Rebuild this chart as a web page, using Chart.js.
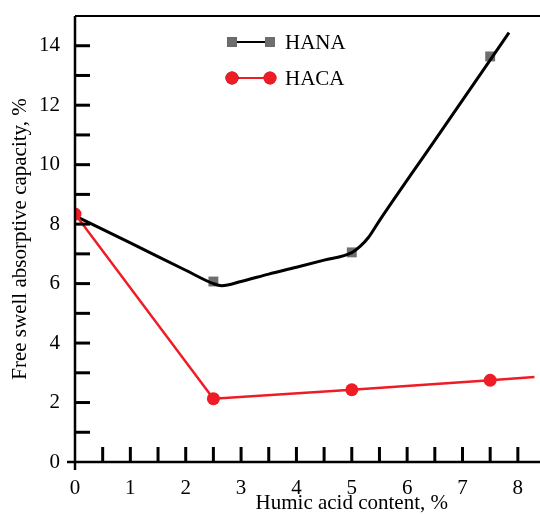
<!DOCTYPE html>
<html><head><meta charset="utf-8">
<script src="https://cdn.jsdelivr.net/npm/chart.js@4.4.0/dist/chart.umd.min.js"></script>
<style>html,body{margin:0;padding:0;background:#fff}#wrap{width:540px;height:514px;position:relative}</style>
</head><body><div id="wrap"><canvas id="c"></canvas></div>
<script>
const seriesNames = ['HANA', 'HACA'];
const humicContent = [0, 2.5, 5, 7.5];
const hanaValues = [8.3, 6.07, 7.05, 13.64];
const hacaValues = [8.34, 2.13, 2.43, 2.75];
const hanaFitX = [0, 1, 2, 2.5, 2.65, 3, 3.5, 4, 4.5, 5, 5.15, 5.3, 5.5, 6.5, 7.84];
const hanaFitY = [8.28, 7.37, 6.45, 6.0, 5.93, 6.07, 6.32, 6.55, 6.79, 7.04, 7.25, 7.55, 8.12, 10.82, 14.44];
const hacaFitX = [0, 2.5, 5, 7.5, 8.3];
const hacaFitY = [8.34, 2.13, 2.43, 2.75, 2.86];
const xTickLabels = ['0', '1', '2', '3', '4', '5', '6', '7', '8'];
const yTickLabels = ['0', '2', '4', '6', '8', '10', '12', '14'];
const xTitle = 'Humic acid content, %';
const yTitle = 'Free swell absorptive capacity, %';

const RED = '#ee1c24', GRAY = '#6e6e6e', FONT = '"Liberation Serif", "Times New Roman", serif';
const pts = (xs, ys) => xs.map((x, i) => ({x, y: ys[i]}));
const noPad = s => { s.paddingLeft = 0; s.paddingRight = 0; s.paddingTop = 0; s.paddingBottom = 0; };
const tightClip = {left: 0, top: 0, right: 0, bottom: 0};

const axesPlugin = {
  id: 'axesPlugin',
  afterDatasetsDraw(chart) {
    const {ctx, chartArea: a, scales: {x, y}} = chart;
    ctx.save();
    ctx.strokeStyle = '#000';
    ctx.lineCap = 'butt';
    ctx.lineWidth = 3;
    x.ticks.forEach(t => {
      if (t.value <= 0) return;
      const px = x.getPixelForValue(t.value);
      ctx.beginPath(); ctx.moveTo(px, a.bottom); ctx.lineTo(px, a.bottom - 15); ctx.stroke();
    });
    y.ticks.forEach(t => {
      if (t.value <= 0 || t.value >= 15) return;
      const py = y.getPixelForValue(t.value);
      ctx.beginPath(); ctx.moveTo(a.left, py); ctx.lineTo(a.left + 15, py); ctx.stroke();
    });
    ctx.lineWidth = 2.5;
    ctx.beginPath();
    ctx.moveTo(a.left - 8, a.bottom); ctx.lineTo(a.right, a.bottom);
    ctx.moveTo(a.left, a.bottom + 8); ctx.lineTo(a.left, a.top);
    ctx.stroke();
    ctx.lineWidth = 2;
    ctx.beginPath(); ctx.moveTo(a.left, a.top); ctx.lineTo(a.right, a.top); ctx.stroke();
    ctx.fillStyle = '#000';
    ctx.font = '21px ' + FONT;
    ctx.textAlign = 'center'; ctx.textBaseline = 'middle';
    ctx.fillText(xTitle, x.getPixelForValue(5), a.bottom + 41);
    const rows = [
      {label: seriesNames[0], line: '#000', style: 'rect', color: GRAY, r: 7, lw: 2},
      {label: seriesNames[1], line: RED, style: 'circle', color: RED, r: 6.5, lw: 2}
    ];
    rows.forEach((it, i) => {
      const ly = a.top + 26 + i * 36;
      const x1 = a.left + 157, x2 = a.left + 195;
      ctx.strokeStyle = it.line; ctx.lineWidth = it.lw;
      ctx.beginPath(); ctx.moveTo(x1, ly); ctx.lineTo(x2, ly); ctx.stroke();
      [x1, x2].forEach(px => {
        Chart.helpers.drawPoint(ctx, {pointStyle: it.style, radius: it.r, borderWidth: 0, rotation: 0}, px, ly);
        ctx.fillStyle = it.color; ctx.fill();
      });
      ctx.fillStyle = '#000';
      ctx.textAlign = 'left';
      ctx.fillText(it.label, a.left + 210, ly + 1);
    });
    ctx.restore();
  }
};

new Chart(document.getElementById('c'), {
  type: 'scatter',
  data: {
    datasets: [
      {label: seriesNames[1], data: pts(humicContent, hacaValues), showLine: false, clip: tightClip,
       pointStyle: 'circle', pointRadius: 6.5, pointBackgroundColor: RED, pointBorderColor: RED, pointBorderWidth: 0},
      {label: 'HACA fit', data: pts(hacaFitX, hacaFitY), showLine: true, borderColor: RED, borderWidth: 2.5,
       pointRadius: 0, tension: 0},
      {label: 'HANA fit', data: pts(hanaFitX, hanaFitY), showLine: true, borderColor: '#000', borderWidth: 3,
       pointRadius: 0, cubicInterpolationMode: 'monotone'},
      {label: seriesNames[0], data: pts(humicContent, hanaValues), showLine: false, clip: tightClip,
       pointStyle: 'rect', pointRadius: 7, pointBackgroundColor: GRAY, pointBorderColor: GRAY, pointBorderWidth: 0}
    ]
  },
  options: {
    responsive: true, maintainAspectRatio: false, animation: false,
    layout: {autoPadding: false, padding: {top: 16, right: 0, left: 0, bottom: 0}},
    plugins: {legend: {display: false}, tooltip: {enabled: false}},
    scales: {
      x: {
        type: 'linear', min: 0, max: 8.4,
        afterFit: s => { s.height = 52; noPad(s); },
        grid: {display: false, drawTicks: false}, border: {display: false},
        ticks: {stepSize: 0.5, includeBounds: false, autoSkip: false, maxRotation: 0, padding: 14,
          color: '#000', font: {family: FONT, size: 21},
          callback: v => xTickLabels.includes(String(v)) ? String(v) : ''}
      },
      y: {
        type: 'linear', min: 0, max: 15,
        afterFit: s => { s.width = 75; noPad(s); },
        grid: {display: false, drawTicks: false}, border: {display: false},
        title: {display: true, text: yTitle, color: '#000', font: {family: FONT, size: 21}, padding: {top: 8, bottom: 0}},
        ticks: {stepSize: 1, autoSkip: false, padding: 15, color: '#000', font: {family: FONT, size: 21},
          callback: v => yTickLabels.includes(String(v)) ? String(v) : ''}
      }
    }
  },
  plugins: [axesPlugin]
});
</script></body></html>
